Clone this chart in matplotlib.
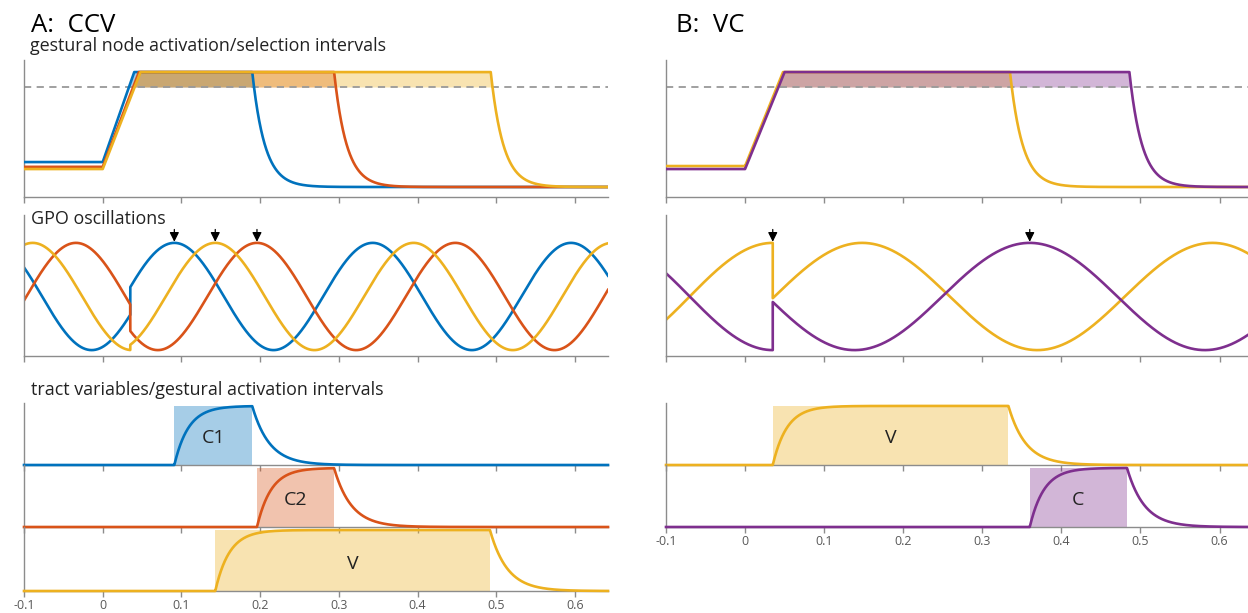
import numpy as np
import matplotlib
matplotlib.use("Agg")
import matplotlib.pyplot as plt

# ---------------- data ----------------
BLUE, RED, YELLOW, PURPLE = "#0072BD", "#D95319", "#EDB120", "#7E2F8E"

xticks = [-0.1, 0, 0.1, 0.2, 0.3, 0.4, 0.5, 0.6]
xtick_labels = ["-0.1", "0", "0.1", "0.2", "0.3", "0.4", "0.5", "0.6"]

# Column A (CCV): order blue C1, red C2, yellow V
gest_L = ["C1", "C2", "V"]
col_L = [BLUE, RED, YELLOW]
act_init_L = [0.255, 0.220, 0.204]     # initial activation level
act_rise_L = [0.040, 0.046, 0.048]     # time at which plateau is reached
act_off_L = [0.190, 0.294, 0.493]      # deactivation time
gpo_peak_pre_L = [0.112, -0.034, -0.089]
gpo_peak_post_L = [0.091, 0.196, 0.143]
gpo_period_pre_L = 0.252
gpo_period_post_L = 0.252
arrows_L = [0.091, 0.143, 0.196]
tv_on_L = [0.091, 0.196, 0.143]
tv_off_L = [0.190, 0.294, 0.492]

# Column B (VC): order yellow V, purple C
gest_R = ["V", "C"]
col_R = [YELLOW, PURPLE]
act_init_R = [0.226, 0.204]
act_rise_R = [0.048, 0.050]
act_off_R = [0.335, 0.486]
gpo_peak_pre_R = [0.035, -0.175]
gpo_peak_post_R = [0.148, 0.360]
gpo_period_pre_R = 0.42
gpo_period_post_R = 0.443
arrows_R = [0.035, 0.360]
tv_on_R = [0.035, 0.360]
tv_off_R = [0.333, 0.483]

act_plateau, act_final, act_threshold = 0.912, 0.073, 0.803
t_jump = 0.035

# ---------------- helpers ----------------
def activation(t, init, rise, off, tau=0.016):
    y = np.full_like(t, init)
    m = (t >= 0) & (t < rise)
    y[m] = init + (act_plateau - init) * t[m] / rise
    m = (t >= rise) & (t < off)
    y[m] = act_plateau
    m = t >= off
    y[m] = act_final + (act_plateau - act_final) * np.exp(-(t[m] - off) / tau)
    return y

def gpo(t, pre, post, per_pre, per_post):
    return np.where(t < t_jump,
                    np.cos(2 * np.pi * (t - pre) / per_pre),
                    np.cos(2 * np.pi * (t - post) / per_post))

def tract(t, on, off, tau_on=0.018, tau_off=0.022):
    y = np.zeros_like(t)
    m = (t >= on) & (t < off)
    y[m] = 1 - np.exp(-(t[m] - on) / tau_on)
    yoff = 1 - np.exp(-(off - on) / tau_on)
    m = t >= off
    y[m] = yoff * np.exp(-(t[m] - off) / tau_off)
    return y

GRAY = "#8c8c8c"
FONT = "Open Sans"
plt.rcParams["font.family"] = [FONT, "DejaVu Sans"]

fig = plt.figure(figsize=(12.48, 6.13), dpi=100)
W, H = 1248, 613

def add_ax(x0, x1, ytop, ybot):
    ax = fig.add_axes([x0 / W, 1 - ybot / H, (x1 - x0) / W, (ybot - ytop) / H])
    ax.set_facecolor("none")
    return ax

def style(ax, xlim, labels=False):
    ax.set_xlim(*xlim)
    for s in ["top", "right"]:
        ax.spines[s].set_visible(False)
    for s in ["left", "bottom"]:
        ax.spines[s].set_color(GRAY)
        ax.spines[s].set_linewidth(1.0)
    ax.set_yticks([])
    ax.set_xticks(xticks)
    ax.tick_params(axis="x", direction="out", length=4, width=1, color=GRAY,
                   labelsize=9, labelcolor="#595959", pad=2)
    if labels:
        ax.set_xticklabels(xtick_labels)
    else:
        ax.set_xticklabels([])

cols = [
    dict(x0=24, x1=608, xlim=(-0.1, 0.642), names=gest_L, colors=col_L,
         init=act_init_L, rise=act_rise_L, off=act_off_L,
         pre=gpo_peak_pre_L, post=gpo_peak_post_L,
         per_pre=gpo_period_pre_L, per_post=gpo_period_post_L,
         arrows=arrows_L, on=tv_on_L, tvoff=tv_off_L,
         tv_rows=[(403, 465), (465, 527), (527, 591)], fill_order=[0, 1, 2]),
    dict(x0=666, x1=1248, xlim=(-0.1, 0.636), names=gest_R, colors=col_R,
         init=act_init_R, rise=act_rise_R, off=act_off_R,
         pre=gpo_peak_pre_R, post=gpo_peak_post_R,
         per_pre=gpo_period_pre_R, per_post=gpo_period_post_R,
         arrows=arrows_R, on=tv_on_R, tvoff=tv_off_R,
         tv_rows=[(403, 465), (465, 527)], fill_order=[0, 1]),
]

for c in cols:
    t = np.linspace(c["xlim"][0], c["xlim"][1], 4000)
    # ---- activation panel ----
    ax = add_ax(c["x0"], c["x1"], 60, 197)
    style(ax, c["xlim"])
    ax.set_ylim(0, 1)
    curves = [activation(t, c["init"][i], c["rise"][i], c["off"][i])
              for i in range(len(c["names"]))]
    for i in c["fill_order"]:
        y = curves[i]
        ax.fill_between(t, act_threshold, y, where=y >= act_threshold,
                        interpolate=True, color=c["colors"][i], alpha=0.35, lw=0)
    ax.axhline(act_threshold, color="#999999", ls=(0, (4, 3)), lw=1.3, zorder=1)
    for i in range(len(c["names"])):
        ax.plot(t, curves[i], color=c["colors"][i], lw=1.9, zorder=3)

    # ---- GPO panel ----
    ax = add_ax(c["x0"], c["x1"], 215, 356)
    style(ax, c["xlim"])
    ax.set_ylim(-1.11, 1.52)
    tj = np.sort(np.concatenate([t, [t_jump - 1e-6, t_jump]]))
    for i in range(len(c["names"])):
        ax.plot(tj, gpo(tj, c["pre"][i], c["post"][i], c["per_pre"], c["per_post"]),
                color=c["colors"][i], lw=1.9)
    for a in c["arrows"]:
        ax.annotate("", xy=(a, 1.02), xytext=(a, 1.25),
                    arrowprops=dict(arrowstyle="-|>", color="k", lw=0.9,
                                    mutation_scale=14, shrinkA=0, shrinkB=0))

    # ---- tract variable panels ----
    n = len(c["names"])
    for k, (ytop, ybot) in enumerate(c["tv_rows"]):
        ax = add_ax(c["x0"], c["x1"], ytop, ybot)
        style(ax, c["xlim"], labels=(k == n - 1))
        ax.set_ylim(0, 1.05)
        on, off = c["on"][k], c["tvoff"][k]
        ax.axvspan(on, off, ymin=0, ymax=1.0 / 1.05, color=c["colors"][k],
                   alpha=0.35, lw=0)
        ax.plot(t, tract(t, on, off), color=c["colors"][k], lw=1.9,
                clip_on=False, zorder=3)
        ax.text((on + off) / 2, 0.45, c["names"][k], ha="center", va="center",
                fontsize=14, color="#222222")

# ---- texts ----
fig.text(31 / W, 1 - 32 / H, "A:  CCV", fontsize=18.5, va="baseline", ha="left")
fig.text(676 / W, 1 - 32 / H, "B:  VC", fontsize=18.5, va="baseline", ha="left")
fig.text(30 / W, 1 - 51 / H, "gestural node activation/selection intervals",
         fontsize=12.9, va="baseline", ha="left", color="#222222")
fig.text(31 / W, 1 - 224 / H, "GPO oscillations", fontsize=12.9, va="baseline",
         ha="left", color="#222222")
fig.text(31 / W, 1 - 395 / H, "tract variables/gestural activation intervals",
         fontsize=12.9, va="baseline", ha="left", color="#222222")

fig.savefig("out.png", dpi=100)
